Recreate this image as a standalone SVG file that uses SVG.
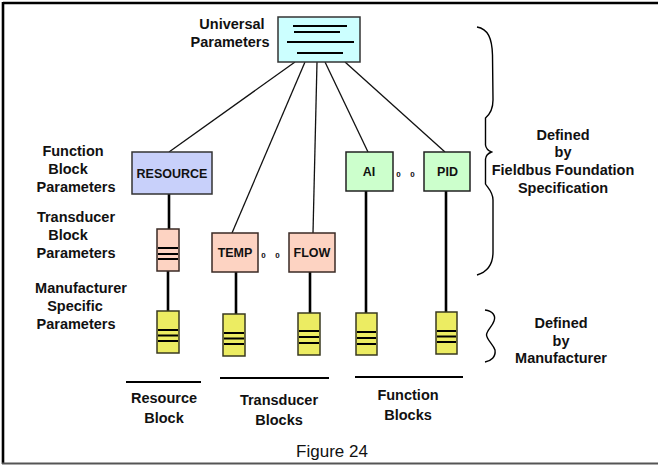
<svg xmlns="http://www.w3.org/2000/svg" width="658" height="466" viewBox="0 0 658 466">
<style>
text{font-family:"Liberation Sans",Arial,sans-serif;font-weight:bold;fill:#111;text-anchor:middle}
.lbl{font-size:14.5px}
.box{font-size:12.5px}
.dot{font-size:8px}
.fan{stroke:#111;stroke-width:1.3;fill:none}
.stem{stroke:#000;stroke-width:2.6;fill:none}
.bar{stroke:#000;stroke-width:2;fill:none}
.frame{stroke:#000;stroke-width:2.6;fill:none}
.brace{stroke:#000;stroke-width:1.4;fill:none}
.yel{fill:#ecec62;stroke:#3a3a20;stroke-width:1.5}
.pink{fill:#fdd3c2;stroke:#3a2a25;stroke-width:1.5}
.grn{fill:#ccffcc;stroke:#222;stroke-width:1.5}
</style>
<rect width="658" height="466" fill="#fff"/>
<g id="frame">
<line class="frame" x1="3" y1="3" x2="658" y2="3"/>
<line class="frame" x1="3" y1="2" x2="3" y2="464"/>
<line x1="2" y1="463.5" x2="658" y2="463.5" stroke="#555" stroke-width="2"/>
</g>
<g id="connectors">
<line class="fan" x1="295" y1="62" x2="169" y2="152"/>
<line class="fan" x1="305" y1="62" x2="232" y2="233"/>
<line class="fan" x1="317" y1="62" x2="313" y2="233"/>
<line class="fan" x1="325" y1="62" x2="368" y2="152"/>
<line class="fan" x1="345" y1="62" x2="445" y2="152"/>
<line class="stem" x1="169" y1="194" x2="169" y2="229"/>
<line class="stem" x1="168" y1="271" x2="168" y2="311"/>
<line class="stem" x1="236" y1="272" x2="236" y2="314"/>
<line class="stem" x1="310" y1="272" x2="310" y2="313"/>
<line class="stem" x1="366" y1="191" x2="366" y2="313"/>
<line class="stem" x1="446" y1="191" x2="446" y2="312"/>
</g>
<g id="universal">
<rect x="278" y="17" width="82" height="45" fill="#ccffff" stroke="#333" stroke-width="1.5"/>
<line class="bar" x1="293" y1="26" x2="347" y2="26"/>
<line class="bar" x1="294" y1="32" x2="340" y2="32"/>
<line class="bar" x1="287" y1="42" x2="354" y2="42"/>
<line class="bar" x1="297" y1="53" x2="343" y2="53"/>
</g>
<g id="universal-label">
<text class="lbl" x="232" y="29">Universal</text>
<text class="lbl" x="230" y="47">Parameters</text>
</g>
<g id="resource">
<rect x="132" y="152" width="80" height="42" fill="#c8d0fa" stroke="#333" stroke-width="1.5"/>
<text class="box" x="172" y="177.5">RESOURCE</text>
</g>
<g id="transducer-params">
<rect class="pink" x="157" y="229" width="22" height="42"/>
<line class="bar" x1="158" y1="248" x2="178" y2="248"/>
<line class="bar" x1="158" y1="254" x2="178" y2="254"/>
<line class="bar" x1="158" y1="259" x2="178" y2="259"/>
</g>
<g id="temp">
<rect class="pink" x="212" y="233" width="46" height="39"/>
<text class="box" x="235" y="257">TEMP</text>
</g>
<g id="flow">
<rect class="pink" x="289" y="233" width="46" height="39"/>
<text class="box" x="312" y="257">FLOW</text>
</g>
<g id="dots1">
<text class="dot" x="263.5" y="258">0</text>
<text class="dot" x="277.5" y="258">0</text>
</g>
<g id="ai">
<rect class="grn" x="346" y="152" width="47" height="39"/>
<text class="box" x="369" y="176">AI</text>
</g>
<g id="pid">
<rect class="grn" x="424" y="152" width="46" height="39"/>
<text class="box" x="447.5" y="176">PID</text>
</g>
<g id="dots2">
<text class="dot" x="398.5" y="177">0</text>
<text class="dot" x="412.5" y="177">0</text>
</g>
<g id="mfr1">
<rect class="yel" x="157" y="311" width="22" height="42"/>
<line class="bar" x1="158" y1="330" x2="178" y2="330"/>
<line class="bar" x1="158" y1="335.5" x2="178" y2="335.5"/>
<line class="bar" x1="158" y1="341" x2="178" y2="341"/>
</g>
<g id="mfr2">
<rect class="yel" x="223" y="314" width="22" height="42"/>
<line class="bar" x1="224" y1="333" x2="244" y2="333"/>
<line class="bar" x1="224" y1="338.5" x2="244" y2="338.5"/>
<line class="bar" x1="224" y1="344" x2="244" y2="344"/>
</g>
<g id="mfr3">
<rect class="yel" x="298" y="313" width="22" height="42"/>
<line class="bar" x1="299" y1="331" x2="319" y2="331"/>
<line class="bar" x1="299" y1="337" x2="319" y2="337"/>
<line class="bar" x1="299" y1="343" x2="319" y2="343"/>
</g>
<g id="mfr4">
<rect class="yel" x="356" y="313" width="21" height="42"/>
<line class="bar" x1="357" y1="332" x2="376" y2="332"/>
<line class="bar" x1="357" y1="338" x2="376" y2="338"/>
<line class="bar" x1="357" y1="344" x2="376" y2="344"/>
</g>
<g id="mfr5">
<rect class="yel" x="436" y="312" width="21" height="42"/>
<line class="bar" x1="437" y1="331" x2="456" y2="331"/>
<line class="bar" x1="437" y1="336.5" x2="456" y2="336.5"/>
<line class="bar" x1="437" y1="342" x2="456" y2="342"/>
</g>
<g id="left-labels">
<text class="lbl" x="73" y="156">Function</text>
<text class="lbl" x="68" y="174">Block</text>
<text class="lbl" x="76" y="192">Parameters</text>
<text class="lbl" x="76" y="222">Transducer</text>
<text class="lbl" x="68" y="240">Block</text>
<text class="lbl" x="76" y="258">Parameters</text>
<text class="lbl" x="81" y="293">Manufacturer</text>
<text class="lbl" x="75" y="311">Specific</text>
<text class="lbl" x="76" y="329">Parameters</text>
</g>
<g id="group-labels">
<line x1="126" y1="382" x2="201" y2="382" stroke="#000" stroke-width="2"/>
<line x1="220" y1="378" x2="329" y2="378" stroke="#000" stroke-width="2"/>
<line x1="355" y1="377" x2="463" y2="377" stroke="#000" stroke-width="2"/>
<text class="lbl" x="164" y="403">Resource</text>
<text class="lbl" x="164" y="423">Block</text>
<text class="lbl" x="279" y="405">Transducer</text>
<text class="lbl" x="279" y="425">Blocks</text>
<text class="lbl" x="408" y="400">Function</text>
<text class="lbl" x="408" y="420">Blocks</text>
</g>
<g id="brace-ff">
<path class="brace" d="M477,27 C488,29 492,38 492.5,55 L493,100 C493,110 489,115 485.5,118 L485.5,145 C486,149 489,151 491.5,152 C489,153 486,155 485.5,159 L485.5,184 C488,188 493,192 493,200 L493,252 C493,264 487,272 477,275"/>
<text class="lbl" x="563" y="140">Defined</text>
<text class="lbl" x="563" y="157">by</text>
<text class="lbl" x="563" y="175">Fieldbus Foundation</text>
<text class="lbl" x="563" y="193">Specification</text>
</g>
<g id="brace-mfr">
<path class="brace" d="M485,310 C493,311 496,316 494,321 C492,327 487,330 486.5,335 C487,340 493,344 495,350 C496,357 491,361 485,362"/>
<text class="lbl" x="561" y="328">Defined</text>
<text class="lbl" x="561" y="346">by</text>
<text class="lbl" x="561" y="363">Manufacturer</text>
</g>
<g id="caption">
<text x="332" y="457" style="font-weight:normal;font-size:17px">Figure 24</text>
</g>
</svg>
